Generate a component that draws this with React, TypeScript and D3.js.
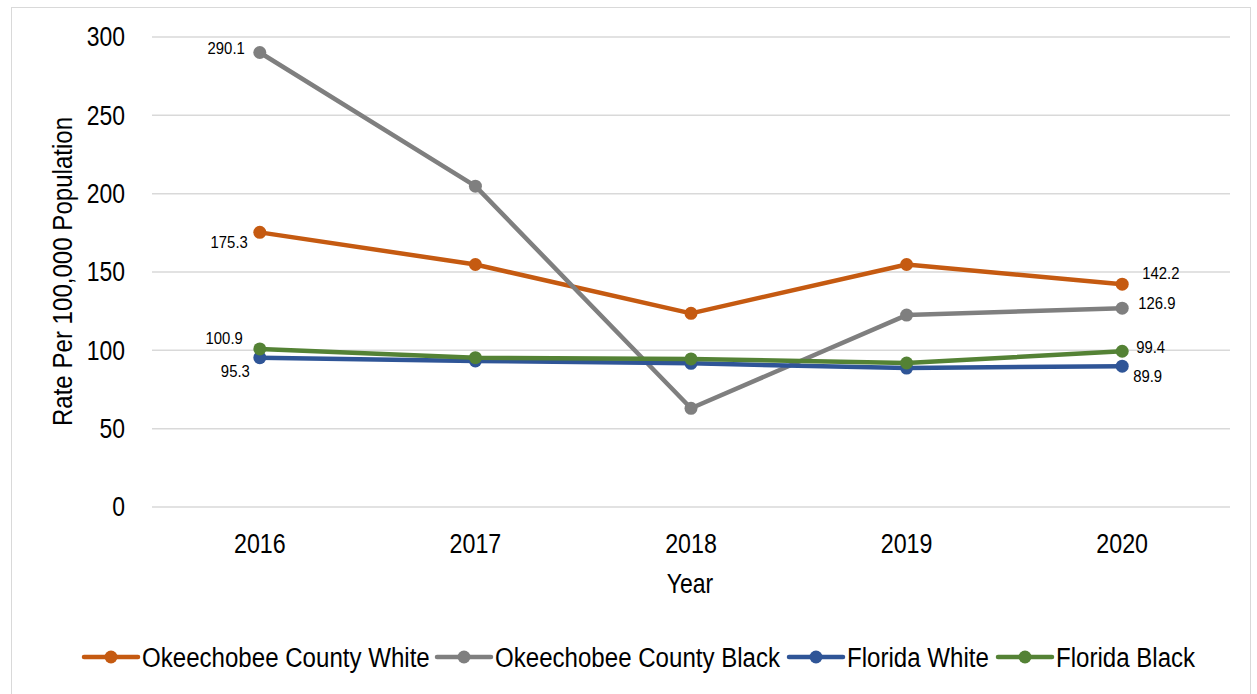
import React from "react";
import * as d3 from "d3";

const years = ["2016", "2017", "2018", "2019", "2020"];
const okeeWhite = [175.3, 154.8, 123.6, 154.8, 142.2];
const okeeBlack = [290.1, 204.8, 63.0, 122.5, 126.9];
const flWhite = [95.3, 93.2, 91.7, 88.7, 89.9];
const flBlack = [100.9, 95.3, 94.5, 91.9, 99.4];
const yTicks = [0, 50, 100, 150, 200, 250, 300];

const seriesNames = ["Okeechobee County White", "Okeechobee County Black", "Florida White", "Florida Black"];
const seriesColors = ["#C55A11", "#7F7F7F", "#2F5597", "#548235"];
const seriesValues = [okeeWhite, okeeBlack, flWhite, flBlack];

// labels: [seriesIdx, pointIdx, dx, dy, anchor]
const labelDefs: [number, number, number, number, string][] = [
  [1, 0, -15, -4, "end"],
  [0, 0, -12, 10, "end"],
  [3, 0, -17, -11, "end"],
  [2, 0, -10, 14, "end"],
  [0, 4, 20, -11, "start"],
  [1, 4, 16, -5, "start"],
  [3, 4, 14, -4, "start"],
  [2, 4, 11, 10.5, "start"],
];

const FONT = "'Liberation Sans', Arial, sans-serif";

function T(props: { x: number; y: number; size: number; sx: number; anchor?: string; rotate?: number; children: React.ReactNode }) {
  const { x, y, size, sx, anchor = "start", rotate = 0, children } = props;
  return (
    <text
      transform={`translate(${x},${y}) rotate(${rotate}) scale(${sx},1)`}
      textAnchor={anchor as any}
      dy="0.35em"
      fontSize={size}
      fill="#000"
    >
      {children}
    </text>
  );
}

export default function App() {
  const W = 1257, H = 694;
  const left = 152, right = 1230, top = 37, bottom = 507;
  const x = d3.scaleBand<string>().domain(years).range([left, right]).padding(0);
  const y = d3.scaleLinear().domain([0, 300]).range([bottom, top]);
  const cx = (d: string) => (x(d) as number) + x.bandwidth() / 2;
  const line = d3.line<number>().x((_, i) => cx(years[i])).y((v) => y(v));

  const legendX = [84, 437, 789, 998];
  const legendY = 657;

  return (
    <svg width={W} height={H} style={{ position: "absolute", left: 0, top: 0, background: "#fff" }} fontFamily={FONT}>
      <rect x={11.5} y={7.5} width={1239} height={700} fill="#fff" stroke="#D9D9D9" strokeWidth={1} />
      {yTicks.map((t) => (
        <g key={t}>
          <line x1={left} x2={right} y1={y(t)} y2={y(t)} stroke="#D9D9D9" strokeWidth={1.5} />
          <T x={125} y={y(t)} size={27} sx={0.85} anchor="end">{t}</T>
        </g>
      ))}
      {years.map((yr) => (
        <T key={yr} x={cx(yr)} y={543} size={28} sx={0.83} anchor="middle">{yr}</T>
      ))}
      <T x={690} y={583} size={28} sx={0.82} anchor="middle">Year</T>
      <T x={62} y={271.5} size={28} sx={0.86} anchor="middle" rotate={-90}>Rate Per 100,000 Population</T>
      {seriesValues.map((vals, si) => (
        <g key={si}>
          <path d={line(vals) || ""} fill="none" stroke={seriesColors[si]} strokeWidth={4.5} strokeLinejoin="round" strokeLinecap="round" />
          {vals.map((v, i) => (
            <circle key={i} cx={cx(years[i])} cy={y(v)} r={6.5} fill={seriesColors[si]} />
          ))}
        </g>
      ))}
      {labelDefs.map(([si, pi, dx, dy, anchor], k) => (
        <T key={k} x={cx(years[pi]) + dx} y={y(seriesValues[si][pi]) + dy} size={16} sx={0.93} anchor={anchor}>
          {seriesValues[si][pi].toFixed(1)}
        </T>
      ))}
      {seriesNames.map((n, i) => {
        const lx = legendX[i];
        return (
          <g key={n}>
            <line x1={lx} x2={lx + 54} y1={legendY} y2={legendY} stroke={seriesColors[i]} strokeWidth={4.5} strokeLinecap="round" />
            <circle cx={lx + 27} cy={legendY} r={6.5} fill={seriesColors[i]} />
            <T x={lx + 58} y={legendY} size={28} sx={0.86}>{n}</T>
          </g>
        );
      })}
    </svg>
  );
}
